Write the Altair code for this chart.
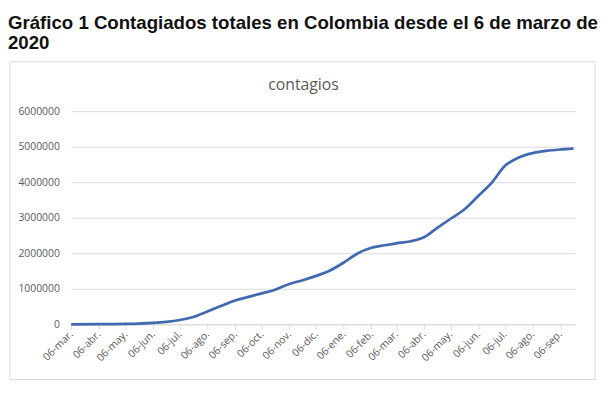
import altair as alt
import pandas as pd

# ---- data ----
dates = [
    "2020-03-06", "2020-04-06", "2020-04-21", "2020-05-06", "2020-05-21",
    "2020-06-06", "2020-06-21", "2020-07-06", "2020-07-21", "2020-08-06",
    "2020-08-21", "2020-09-06", "2020-09-21", "2020-10-06", "2020-10-21",
    "2020-11-06", "2020-11-21", "2020-12-06", "2020-12-21", "2021-01-06",
    "2021-01-21", "2021-02-06", "2021-02-21", "2021-03-06", "2021-03-21",
    "2021-04-06", "2021-04-21", "2021-05-06", "2021-05-21", "2021-06-06",
    "2021-06-21", "2021-07-06", "2021-07-21", "2021-08-06", "2021-08-21",
    "2021-09-06", "2021-09-21",
]
contagios = [
    1, 1500, 4100, 8600, 18300,
    38000, 68600, 120000, 204000, 357000,
    513000, 671000, 770000, 870000, 974000,
    1136000, 1240000, 1362000, 1507000, 1737000,
    1987000, 2155000, 2226000, 2279000, 2330000,
    2449000, 2714000, 2971000, 3224000, 3612000,
    3982000, 4461000, 4688000, 4819000, 4880000,
    4920000, 4945000,
]
tick_dates = [
    (2020, 3), (2020, 4), (2020, 5), (2020, 6), (2020, 7), (2020, 8),
    (2020, 9), (2020, 10), (2020, 11), (2020, 12), (2021, 1), (2021, 2),
    (2021, 3), (2021, 4), (2021, 5), (2021, 6), (2021, 7), (2021, 8), (2021, 9),
]
month_abbr = ["ene.", "feb.", "mar.", "abr.", "may.", "jun.",
              "jul.", "ago.", "sep.", "oct.", "nov.", "dic."]
y_ticks = [0, 1000000, 2000000, 3000000, 4000000, 5000000, 6000000]

heading = ["Gráfico 1 Contagiados totales en Colombia desde el 6 de marzo de", "2020"]
inner_title = "contagios"

df = pd.DataFrame({"fecha": [d + "T00:00:00" for d in dates], "contagios": contagios})

GRID = "#d9d9d9"
LABEL = "#595959"
FONT = "Open Sans"

label_expr = ("timeFormat(datum.value, '%d') + '-' + ["
              + ",".join("'" + m + "'" for m in month_abbr)
              + "][month(datum.value)]")

W, H = 511, 216

line = alt.Chart(df).mark_line(
    color="#4169b0", strokeWidth=2.75, interpolate="monotone"
).encode(
    x=alt.X(
        "fecha:T",
        scale=alt.Scale(
            domain=[alt.DateTime(year=2020, month=3, date=6),
                    alt.DateTime(year=2021, month=9, date=23)],
            nice=False,
        ),
        axis=alt.Axis(
            title=None,
            values=[alt.DateTime(year=y, month=m, date=6) for y, m in tick_dates],
            labelExpr=label_expr,
            labelAngle=315,
            labelAlign="right",
            labelBaseline="middle",
            labelPadding=3,
            labelFont=FONT,
            labelFontSize=10.5,
            labelColor=LABEL,
            grid=False,
            domainColor=GRID,
            tickColor=GRID,
            tickSize=5,
            labelOverlap=False,
        ),
    ),
    y=alt.Y(
        "contagios:Q",
        scale=alt.Scale(domain=[0, 6000000], nice=False),
        axis=alt.Axis(
            title=None,
            values=y_ticks,
            format="d",
            labelFont=FONT,
            labelFontSize=10.5,
            labelColor=LABEL,
            labelPadding=12,
            ticks=False,
            domain=False,
            grid=True,
            gridColor=GRID,
        ),
    ),
)

box = alt.Chart(alt.Data(values=[{}])).mark_rect(
    filled=False, color=GRID, strokeWidth=1
).encode(
    x=alt.value(-62), x2=alt.value(531), y=alt.value(-50), y2=alt.value(272)
)

title_txt = alt.Chart(alt.Data(values=[{}])).mark_text(
    text=inner_title, font=FONT, fontSize=16, color=LABEL,
    align="center", baseline="alphabetic"
).encode(x=alt.value(235.5), y=alt.value(-21))

chart = alt.layer(box, title_txt, line).properties(
    width=W,
    height=H,
    autosize=alt.AutoSizeParams(type="none"),
    padding={"left": 64, "top": 102, "right": 24, "bottom": 60},
    title=alt.TitleParams(
        text=heading,
        anchor="start",
        frame="bounds",
        font="Liberation Sans",
        fontSize=18.9,
        fontWeight="bold",
        color="#111111",
        lineHeight=20,
        offset=8.5,
        dx=-1.5,
    ),
).configure_view(stroke=None)

chart.save("out.html", embed_options={"renderer": "svg", "actions": False})
